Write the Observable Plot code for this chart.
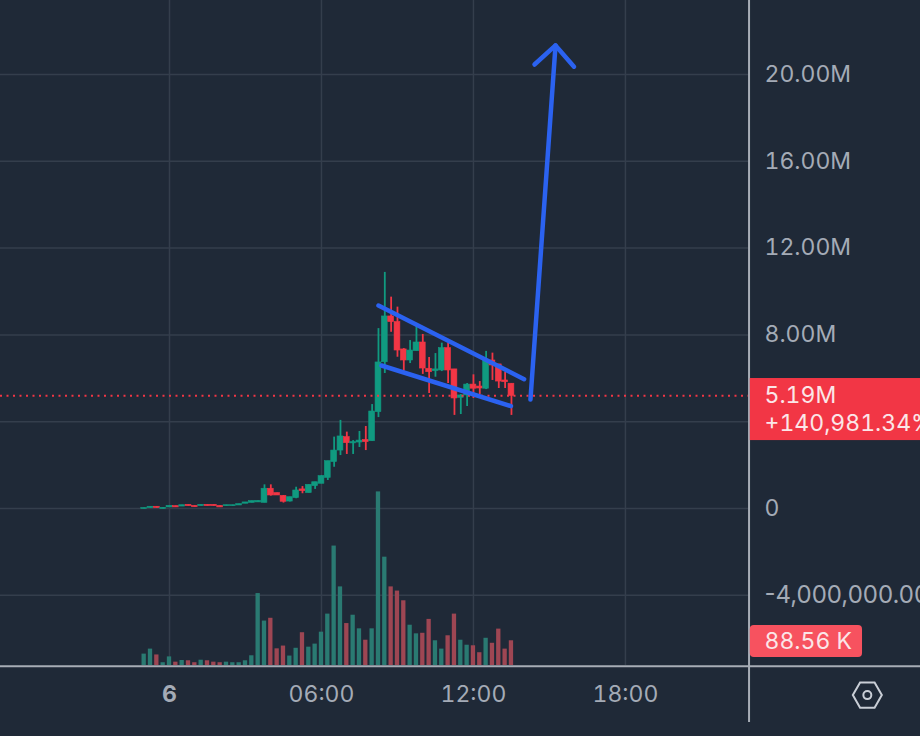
<!DOCTYPE html>
<html>
<head>
<meta charset="utf-8">
<style>html,body{margin:0;padding:0;background:#1f2937;overflow:hidden}</style>
<script src="https://cdn.jsdelivr.net/npm/d3@7"></script>
<script src="https://cdn.jsdelivr.net/npm/@observablehq/plot@0.6"></script>
</head>
<body>
<div id="chart"></div>
<script>
// Time of each 15-minute candle, in hours after midnight on the 6th
const hours = [-1,-.75,-.5,-.25,0,.25,.5,.75,1,1.25,1.5,1.75,2,2.25,2.5,2.75,3,3.25,3.5,3.75,4,4.25,4.5,4.75,5,5.25,5.5,5.75,6,6.25,6.5,6.75,7,7.25,7.5,7.75,8,8.25,8.5,8.75,9,9.25,9.5,9.75,10,10.25,10.5,10.75,11,11.25,11.5,11.75,12,12.25,12.5,12.75,13,13.25,13.5];
// Prices in millions
const open = [-.02,.02,.08,-.02,.05,.11,.09,.17,.12,.11,.17,.17,.12,.11,.11,.14,.22,.26,.28,.26,.91,.71,.58,.32,.48,.88,.71,1.03,1.14,1.41,2.14,2.67,3.29,3.0,3.04,3.16,3.10,4.44,6.74,8.85,8.59,7.33,6.82,7.25,7.65,6.44,6.33,6.36,7.39,6.41,5.10,5.21,5.71,5.62,5.52,6.82,6.64,5.90,5.75];
const close = [.02,.08,.02,.03,.12,.05,.15,.11,.06,.17,.11,.11,.05,.15,.15,.2,.28,.34,.35,.91,.6,.6,.31,.52,.83,.8,1.09,1.21,1.49,2.18,2.67,3.32,3.01,3.06,3.13,3.06,4.47,6.73,8.85,8.59,7.28,6.82,7.28,7.65,6.45,6.28,6.41,7.39,6.36,5.07,5.21,5.71,5.52,5.53,6.82,6.59,5.85,5.82,5.19];
const high = [.02,.08,.08,.03,.12,.11,.15,.17,.12,.17,.17,.17,.12,.15,.15,.2,.28,.34,.35,1.09,1.09,.71,.6,.52,.98,1.01,1.09,1.21,1.52,2.18,3.29,4.06,3.52,3.13,3.55,3.78,4.79,8.29,10.88,9.74,9.28,7.37,7.74,8.53,8.02,6.96,7.14,7.62,7.62,6.41,5.25,5.76,6.16,5.85,7.24,7.16,6.64,6.28,5.75];
const low = [-.02,.02,.02,-.02,.05,.05,.09,.11,.06,.11,.11,.11,.05,.11,.11,.14,.22,.26,.28,.26,.57,.6,.25,.3,.45,.68,.71,.88,1.14,1.29,1.9,2.44,2.49,2.49,2.81,2.67,3.10,4.19,6.22,8.12,6.97,6.33,6.68,7.25,6.18,5.30,6.05,6.31,5.76,4.29,4.33,4.70,5.07,5.25,5.48,5.90,5.53,5.53,4.29];
// Volume in thousands
const volume = [41,59,38,10,31,12,18,17,10,19,17,12,10,12,10,10,17,35,259,160,170,60,70,34,62,118,66,77,120,185,430,283,151,181,132,91,132,625,390,283,268,233,145,114,116,166,89,59,107,185,91,73,71,46,98,80,131,59,89];

const priceTicks = [20,16,12,8,0];
const priceLabels = ["20.00M","16.00M","12.00M","8.00M","0"];
const gridPrices = [20,16,12,8,4,0,-4];
const negativeTick = -4;
const negativeLabel = "-4,000,000.00";
const timeTicks = [0,6,12,18];
const timeLabels = ["6","06:00","12:00","18:00"];

const lastPrice = 5.19;
const lastPriceLabel = "5.19M";
const lastChangeLabel = "+140,981.34%";
const lastVolumeLabel = "88.56 K";

// Hand-drawn overlays: [hour, price]
const upperTrend = [[8.25,9.35],[14.0,5.96]];
const lowerTrend = [[8.37,6.59],[13.48,4.72]];
const arrowShaft = [[14.25,5.02],[15.24,21.34]];
const arrowHead = [[14.41,20.46],[15.24,21.34],[15.97,20.36]];

const BG="#1f2937", GRID="#343e4c", AXIS="#a7adb6", TEXT="#a4abb6", LABEL="#fbe6e8", ICON="#c9ced6";
const UP="#109a80", DOWN="#f23645", BLUE="#2b62f0";
const VOL_UP="#2a7a72", VOL_DOWN="#9e4653";
const FONT="Inter, sans-serif";
const NUM="tabular-nums";
const SIZE=23;

const xMin=-6.672, xMax=29.649, axisX=22.88, boxX=22.93, labelX=23.49, yMin=-10.507, yMax=23.41;
const volBase=-7.235, volUnit=0.0128;

const candles = hours.map((h,i)=>{const up=close[i]>=open[i];return {h,o:open[i],c:close[i],hi:high[i],lo:low[i],v:volume[i],color:up?UP:DOWN,vcolor:up?VOL_UP:VOL_DOWN};});
const yTicks = priceTicks.map((v,i)=>({v,label:priceLabels[i]}));
const xTicks = timeTicks.map((h,i)=>({h,label:timeLabels[i]}));
const overlay = d => Plot.line(d,{x:p=>p[0],y:p=>p[1],stroke:BLUE,strokeWidth:4.5,strokeLinecap:"round",strokeLinejoin:"round"});
const hexagon = {draw(ctx,size){const r=Math.sqrt(size/Math.PI);const a=r,b=r*.87;ctx.moveTo(a,0);ctx.lineTo(a/2,b);ctx.lineTo(-a/2,b);ctx.lineTo(-a,0);ctx.lineTo(-a/2,-b);ctx.lineTo(a/2,-b);ctx.closePath();}};

const chart = Plot.plot({
  width:920,height:736,margin:0,
  style:{background:BG,fontFamily:FONT,overflow:"hidden"},
  x:{domain:[xMin,xMax],axis:null},
  y:{domain:[yMin,yMax],axis:null},
  marks:[
    Plot.ruleY(gridPrices,{x1:()=>xMin,x2:()=>axisX,stroke:GRID,strokeWidth:1.5}),
    Plot.ruleX(xTicks,{x:"h",y1:()=>volBase,y2:()=>yMax,stroke:GRID,strokeWidth:1.5}),
    Plot.rect(candles,{x1:d=>d.h-.085,x2:d=>d.h+.085,y1:()=>volBase,y2:d=>volBase+d.v*volUnit,fill:"vcolor"}),
    Plot.ruleX(candles,{x:"h",y1:"lo",y2:"hi",stroke:"color",strokeWidth:1.8}),
    Plot.rect(candles,{x1:d=>d.h-.115,x2:d=>d.h+.115,y1:"o",y2:"c",fill:"color",stroke:"color",strokeWidth:.6}),
    Plot.ruleY([lastPrice],{x1:()=>xMin,x2:()=>axisX,stroke:DOWN,strokeWidth:2,strokeDasharray:"2 4.5"}),
    overlay(upperTrend),overlay(lowerTrend),overlay(arrowShaft),overlay(arrowHead),
    Plot.ruleY([volBase-.04],{x1:()=>xMin,x2:()=>xMax,stroke:AXIS,strokeWidth:2}),
    Plot.ruleX([axisX],{y1:()=>-9.86,y2:()=>yMax,stroke:AXIS,strokeWidth:2}),
    Plot.text(yTicks,{x:()=>labelX,y:"v",text:"label",textAnchor:"start",fill:TEXT,fontSize:SIZE,fontVariant:NUM}),
    Plot.text([negativeLabel],{x:()=>labelX,y:()=>negativeTick,text:d=>d,textAnchor:"start",fill:TEXT,fontSize:24}),
    Plot.text(xTicks.slice(1),{x:"h",y:()=>-8.6,text:"label",fill:TEXT,fontSize:SIZE,fontVariant:NUM}),
    Plot.text(xTicks.slice(0,1),{x:"h",y:()=>-8.6,text:"label",fill:TEXT,fontSize:SIZE,fontWeight:700}),
    Plot.rect([0],{x1:()=>boxX,x2:()=>xMax+1,y1:()=>3.13,y2:()=>5.99,fill:DOWN}),
    Plot.text([lastPriceLabel],{x:()=>labelX,y:()=>5.19,text:d=>d,textAnchor:"start",fill:LABEL,fontSize:SIZE,fontVariant:NUM}),
    Plot.text([lastChangeLabel],{x:()=>labelX,y:()=>3.93,text:d=>d,textAnchor:"start",fill:LABEL,fontSize:SIZE,fontVariant:NUM}),
    Plot.rect([0],{x1:()=>boxX,x2:()=>27.36,y1:()=>-6.87,y2:()=>-5.39,fill:"#f7525f",rx:4}),
    Plot.text([lastVolumeLabel],{x:()=>labelX,y:()=>-6.13,text:d=>d,textAnchor:"start",fill:LABEL,fontSize:SIZE,fontVariant:NUM}),
    Plot.dot([0],{x:()=>27.55,y:()=>-8.6,r:14.5,symbol:hexagon,stroke:ICON,strokeWidth:2,fill:"none"}),
    Plot.dot([0],{x:()=>27.55,y:()=>-8.6,r:4,stroke:ICON,strokeWidth:2,fill:"none"})
  ]
});
document.getElementById("chart").appendChild(chart);
</script>
</body>
</html>
